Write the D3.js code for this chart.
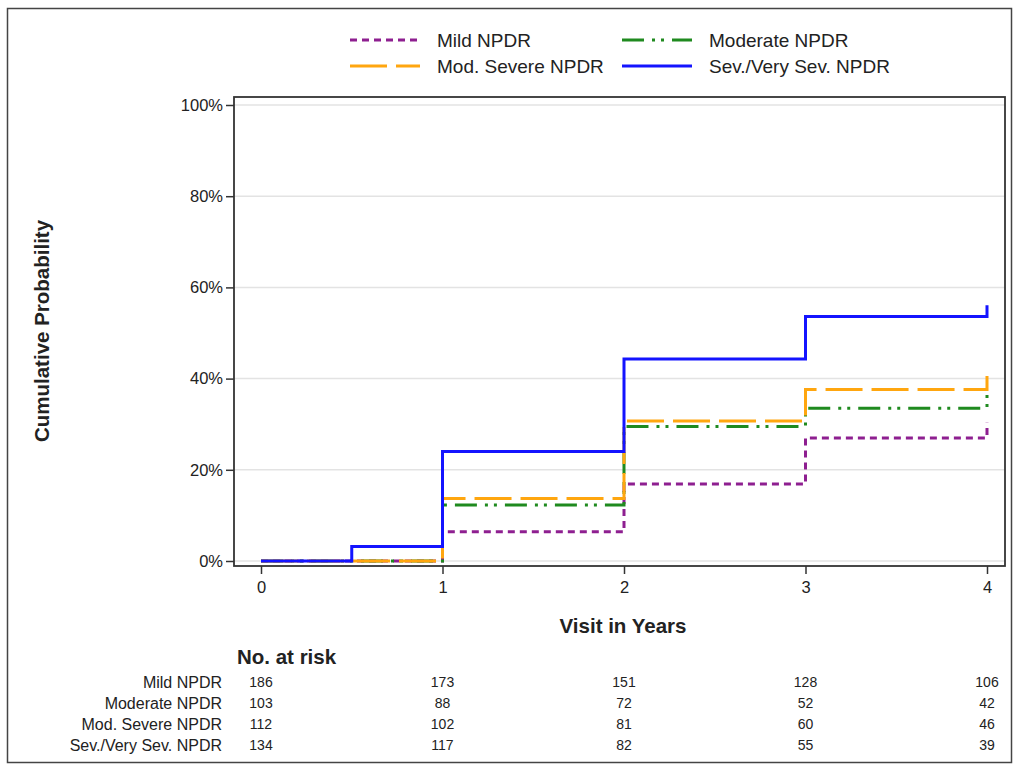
<!DOCTYPE html>
<html>
<head>
	<meta charset="utf-8">
	<title>Cumulative probability by NPDR level</title>
	<script src="https://d3js.org/d3.v7.min.js"></script>
	<style>
		body { margin: 0; background: #fff; }
		text { font-family: "Liberation Sans", Arial, sans-serif; fill: #222; }
	</style>
</head>
<body>
	<div class="chart"></div>

	<script type="text/javascript">

		// visit times (years) at which the curves step
		var years = [0, 0.5, 1, 2, 3, 4]
		// cumulative probability (%) for each group
		var mildProb = [0, 0, 6.4, 16.9, 27.0, 30.3]
		var moderateProb = [0, 0, 12.3, 29.5, 33.5, 36.4]
		var modSevereProb = [0, 0, 13.7, 30.7, 37.6, 40.8]
		var severeProb = [0, 3.2, 24.0, 44.3, 53.6, 56.1]

		var groupNames = ['Mild NPDR', 'Moderate NPDR', 'Mod. Severe NPDR', 'Sev./Very Sev. NPDR']

		// number at risk table
		var riskYears = [0, 1, 2, 3, 4]
		var mildRisk = [186, 173, 151, 128, 106]
		var moderateRisk = [103, 88, 72, 52, 42]
		var modSevereRisk = [112, 102, 81, 60, 46]
		var severeRisk = [134, 117, 82, 55, 39]

		var yTicks = [0, 20, 40, 60, 80, 100]
		var xTicks = [0, 1, 2, 3, 4]

		var width = 1018
		var height = 772

		var svg = d3
			.select('.chart')
			.append('svg')
			.attr('width', width)
			.attr('height', height)

		// outer border
		svg.append('rect')
			.attr('x', 7.5).attr('y', 8.5)
			.attr('width', 1004).attr('height', 754)
			.attr('fill', 'none')
			.attr('stroke', '#444')
			.attr('stroke-width', 1.5)

		var frame = { left: 234, right: 1005, top: 97, bottom: 566 }

		var x = d3.scaleLinear().domain([0, 4]).range([261, 987])
		var y = d3.scaleLinear().domain([0, 100]).range([561, 105])

		// grid lines
		svg.append('g')
			.selectAll('line')
			.data(yTicks)
			.enter()
			.append('line')
			.attr('x1', frame.left).attr('x2', frame.right)
			.attr('y1', (d) => y(d)).attr('y2', (d) => y(d))
			.attr('stroke', '#e3e3e3')
			.attr('stroke-width', 1.5)

		// y axis
		var yAxis = svg.append('g')
			.attr('transform', `translate(${frame.left}, 0)`)
			.call(d3.axisLeft(y).tickValues(yTicks).tickFormat((d) => d + '%').tickSize(8).tickSizeOuter(0))
		yAxis.select('.domain').remove()
		yAxis.selectAll('.tick line').attr('stroke', '#333').attr('stroke-width', 1.5)
		yAxis.selectAll('.tick text')
			.attr('x', -11)
			.attr('font-size', 16.5)
			.attr('font-family', null)

		// x axis
		var xAxis = svg.append('g')
			.attr('transform', `translate(0, ${frame.bottom})`)
			.call(d3.axisBottom(x).tickValues(xTicks).tickFormat(d3.format('d')).tickSize(8).tickSizeOuter(0))
		xAxis.select('.domain').remove()
		xAxis.selectAll('.tick line').attr('stroke', '#333').attr('stroke-width', 1.5)
		xAxis.selectAll('.tick text')
			.attr('y', 15)
			.attr('font-size', 16.5)
			.attr('font-family', null)

		// plot frame
		svg.append('rect')
			.attr('x', frame.left).attr('y', frame.top)
			.attr('width', frame.right - frame.left)
			.attr('height', frame.bottom - frame.top)
			.attr('fill', 'none')
			.attr('stroke', '#333')
			.attr('stroke-width', 1.8)

		// step curves
		var series = [
			{ name: groupNames[0], values: mildProb, color: '#8e1f90', dash: '7,5' },
			{ name: groupNames[1], values: moderateProb, color: '#1f8a1f', dash: '22,8,3,6,3,8' },
			{ name: groupNames[2], values: modSevereProb, color: '#ffa60f', dash: '37,9' },
			{ name: groupNames[3], values: severeProb, color: '#1414ff', dash: null }
		]

		var line = d3.line()
			.x((d) => x(d[0]))
			.y((d) => y(d[1]))
			.curve(d3.curveStepAfter)

		svg.append('g')
			.selectAll('path')
			.data(series)
			.enter()
			.append('path')
			.attr('d', (d) => line(years.map((t, i) => [t, d.values[i]])))
			.attr('fill', 'none')
			.attr('stroke', (d) => d.color)
			.attr('stroke-width', 3)
			.attr('stroke-dasharray', (d) => d.dash)

		// axis titles
		svg.append('text')
			.attr('x', 623).attr('y', 633)
			.attr('text-anchor', 'middle')
			.attr('font-size', 20.5)
			.attr('font-weight', 'bold')
			.text('Visit in Years')

		svg.append('text')
			.attr('transform', 'translate(49, 331) rotate(-90)')
			.attr('text-anchor', 'middle')
			.attr('font-size', 20.5)
			.attr('font-weight', 'bold')
			.text('Cumulative Probability')

		// legend
		var legendPos = [[350, 40], [622, 40], [350, 66], [622, 66]]
		var legend = svg.append('g')
			.selectAll('g')
			.data(series)
			.enter()
			.append('g')
			.attr('transform', (d, i) => `translate(${legendPos[i][0]}, ${legendPos[i][1]})`)
		legend.append('line')
			.attr('x1', 0).attr('x2', 70)
			.attr('stroke', (d) => d.color)
			.attr('stroke-width', 3)
			.attr('stroke-dasharray', (d) => d.dash)
		legend.append('text')
			.attr('x', 87).attr('dy', '0.35em')
			.attr('font-size', 19)
			.text((d) => d.name)

		// number at risk table
		svg.append('text')
			.attr('x', 237).attr('y', 664)
			.attr('font-size', 20.5)
			.attr('font-weight', 'bold')
			.text('No. at risk')

		var riskRows = [mildRisk, moderateRisk, modSevereRisk, severeRisk]
		var rowY = [682, 703, 724, 745]
		var rows = svg.append('g')
			.selectAll('g')
			.data(riskRows)
			.enter()
			.append('g')
			.attr('transform', (d, i) => `translate(0, ${rowY[i]})`)
		rows.append('text')
			.attr('x', 222).attr('dy', '0.35em')
			.attr('text-anchor', 'end')
			.attr('font-size', 16)
			.text((d, i) => groupNames[i])
		rows.selectAll('.n')
			.data((d) => d)
			.enter()
			.append('text')
			.attr('class', 'n')
			.attr('x', (d, i) => x(riskYears[i]))
			.attr('dy', '0.35em')
			.attr('text-anchor', 'middle')
			.attr('font-size', 14)
			.text((d) => d)

	</script>
</body>
</html>
